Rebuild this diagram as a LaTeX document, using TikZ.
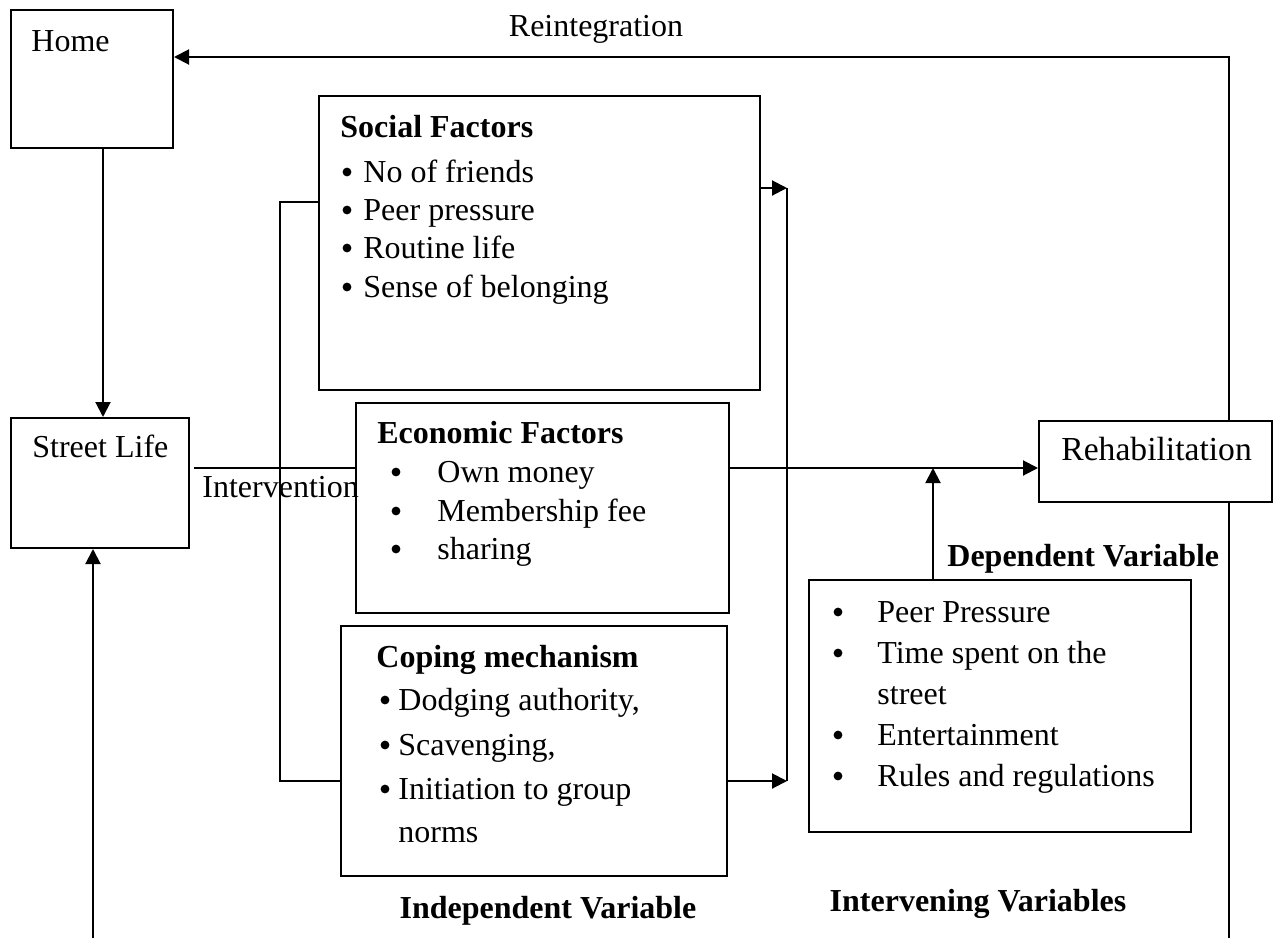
\documentclass[tikz,border=0pt]{standalone}
\usepackage{fontspec}
\setmainfont{Liberation Serif}
\usetikzlibrary{arrows.meta,fit}
\begin{document}
\begin{tikzpicture}[x=0.5pt,y=-0.5pt,
  box/.style={draw, line width=1pt, inner sep=0pt, rectangle},
  txt/.style={inner sep=0pt, anchor=base west, font=\fontsize{16}{19}\selectfont},
  btxt/.style={txt, font=\fontsize{16}{19}\selectfont\bfseries},
  bul/.style={circle, fill, draw=none, inner sep=0pt, minimum size=4.4pt},
  conn/.style={line width=1pt},
  arr/.style={conn, -{Triangle[length=7.5pt,width=7.5pt]}}]
\useasboundingbox (0,0) rectangle (1275,938);

% boxes
\node[box, fit={(11,10) (173,148)}] (home) {};
\node[box, fit={(11,418) (189,548)}] (street) {};
\node[box, fit={(319,96) (760,390)}] (social) {};
\node[box, fit={(356,403) (729,613)}] (econ) {};
\node[box, fit={(341,626) (727,876)}] (coping) {};
\node[box, fit={(809,580) (1191,832)}] (interv) {};
\node[box, fit={(1039,421) (1272,502)}] (rehab) {};

% box texts
\node[txt] (homet) at (31,51) {Home};
\node[txt] (streett) at (32,457) {Street Life};
\node[txt, font=\fontsize{16.8}{20}\selectfont] (rehabt) at (1061,460) {Rehabilitation};

\node[btxt] (soct) at (340,137) {Social Factors};
\node[bul] (sb1) at (347,172) {}; \node[txt] (s1) at (363,182) {No of friends};
\node[bul] (sb2) at (347,210) {}; \node[txt] (s2) at (363,220) {Peer pressure};
\node[bul] (sb3) at (347,248) {}; \node[txt] (s3) at (363,258) {Routine life};
\node[bul] (sb4) at (347,287) {}; \node[txt] (s4) at (363,297) {Sense of belonging};

\node[btxt] (econt) at (377,443) {Economic Factors};
\node[bul] (eb1) at (396,472) {}; \node[txt] (e1) at (437,482) {Own money};
\node[bul] (eb2) at (396,511) {}; \node[txt] (e2) at (437,521) {Membership fee};
\node[bul] (eb3) at (396,549) {}; \node[txt] (e3) at (437,559) {sharing};

\node[btxt] (copt) at (376,667) {Coping mechanism};
\node[bul] (cb1) at (385,700) {}; \node[txt] (c1) at (398,710) {Dodging authority,};
\node[bul] (cb2) at (385,745) {}; \node[txt] (c2) at (398,755) {Scavenging,};
\node[bul] (cb3) at (385,789) {}; \node[txt] (c3) at (398,799) {Initiation to group};
\node[txt] (c4) at (398,842) {norms};

\node[bul] (ib1) at (838,612) {}; \node[txt] (i1) at (877,622) {Peer Pressure};
\node[bul] (ib2) at (838,653) {}; \node[txt] (i2) at (877,663) {Time spent on the};
\node[txt] (i3) at (877,704) {street};
\node[bul] (ib4) at (838,735) {}; \node[txt] (i4) at (877,745) {Entertainment};
\node[bul] (ib5) at (838,776) {}; \node[txt] (i5) at (877,786) {Rules and regulations};

% free labels
\node[txt, anchor=base] (reint) at (596,36) {Reintegration};
\node[txt] (intv) at (202,497) {Intervention};
\node[btxt] (dep) at (947,566) {Dependent Variable};
\node[btxt, anchor=base] (indep) at (548,918) {Independent Variable};
\node[btxt, anchor=base] (intvar) at (978,911) {Intervening Variables};

% coordinates
\coordinate (hs) at (103,0);
\coordinate (bl) at (93,938);
\coordinate (rtop) at (1229,57);
\coordinate (rbot) at (1229,938);
\coordinate (iy) at (0,468);
\coordinate (lb1) at (280,202);
\coordinate (lb2) at (280,781);
\coordinate (rb1) at (787,188);
\coordinate (rb2) at (787,781);
\coordinate (ux) at (933,0);

% connectors
\draw[arr] (home.south -| hs) -- (street.north -| hs);
\draw[arr] (bl) -- (street.south -| bl);
\draw[arr] (rehab.north -| rtop) -- (rtop) -- (home.east |- rtop);
\draw[conn] (rehab.south -| rbot) -- (rbot);
\draw[conn] ([xshift=2pt]street.east |- iy) -- (econ.west |- iy);
\draw[conn] (social.west |- lb1) -- (lb1) -- (lb2) -- (coping.west |- lb2);
\draw[conn] (rb1) -- (rb2);
\draw[arr] (social.east |- rb1) -- (rb1);
\draw[arr] (coping.east |- rb2) -- (rb2);
\draw[arr] (econ.east |- iy) -- (rehab.west |- iy);
\draw[arr] (interv.north -| ux) -- (ux |- iy);
\end{tikzpicture}
\end{document}
